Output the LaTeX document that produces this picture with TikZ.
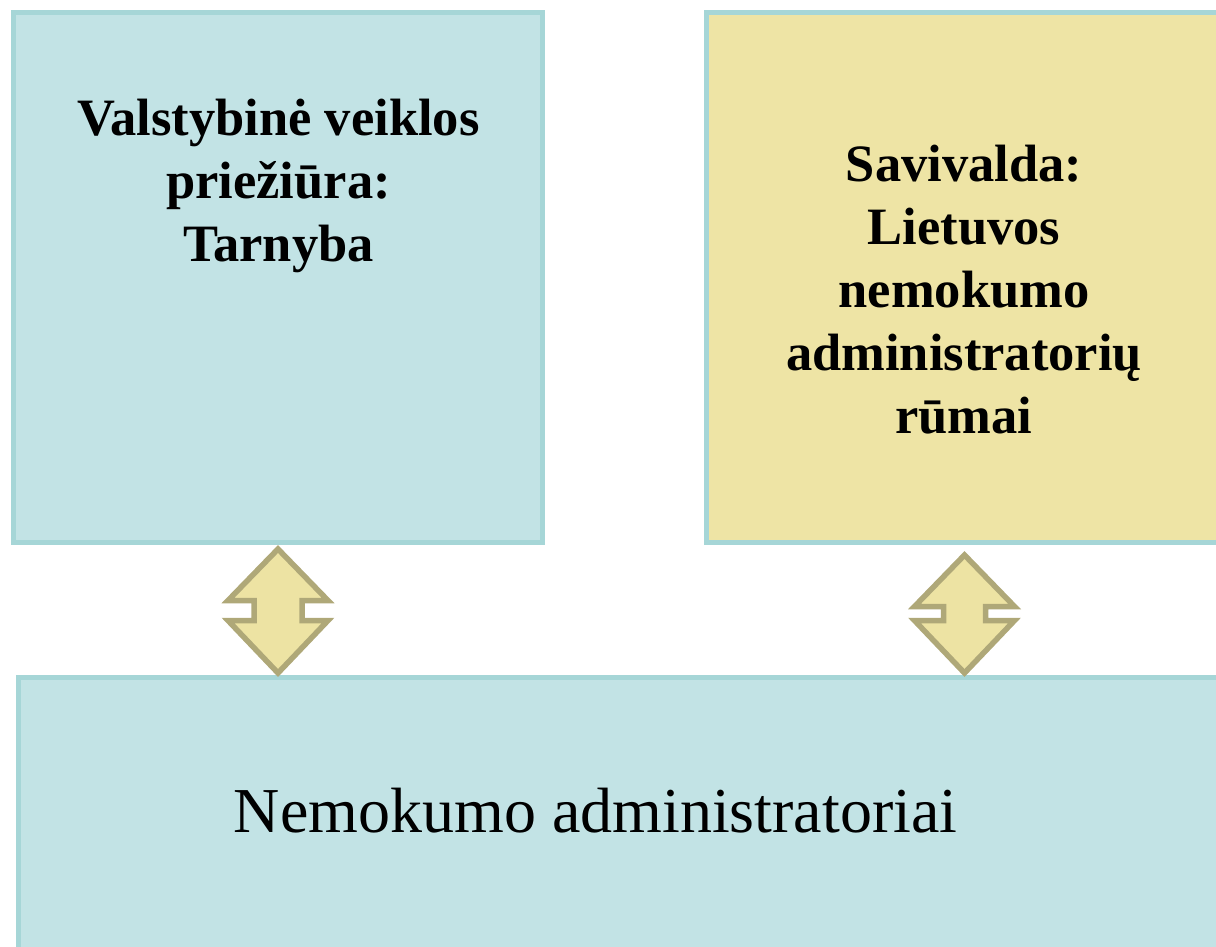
\documentclass[tikz,border=0pt]{standalone}
\usepackage{fontspec}
\setmainfont{Liberation Serif}
\definecolor{boxline}{HTML}{A6D6D7}
\definecolor{boxfill}{HTML}{C2E3E5}
\definecolor{yelfill}{HTML}{EEE4A5}
\definecolor{arrline}{HTML}{AFA878}
\definecolor{arrfill}{HTML}{EDE3A3}
\begin{document}
\begin{tikzpicture}[x=1pt,y=-1pt,
  box/.style={draw=boxline,line width=5pt,fill=boxfill,rectangle,inner sep=0pt,outer sep=0pt},
  ybox/.style={box,fill=yelfill},
  title/.style={align=center,anchor=base,inner sep=0pt,font=\fontsize{52.5}{63}\selectfont\bfseries},
  big/.style={anchor=base,inner sep=0pt,font=\fontsize{64}{77}\selectfont},
  dbl/.style={draw=arrline,fill=arrfill,line width=5.5pt,line join=miter}]
\useasboundingbox (0,0) rectangle (1216,946);
\begin{scope}
\clip (0,0) rectangle (1216,946);
\node[box,minimum width=529pt,minimum height=530pt] (L) at (278,277.5) {};
\node[ybox,minimum width=540pt,minimum height=530pt] (R) at (976.5,277.5) {};
\node[box,minimum width=1230pt,minimum height=300pt] (B) at (633.5,827.5) {};
\end{scope}
\node[title] (Lt) at (278.5,261) {Valstybinė veiklos\\priežiūra:\\Tarnyba};
\node[title] (Rt) at (964,433) {Savivalda:\\Lietuvos\\nemokumo\\administratorių\\rūmai};
\node[big] (Bt) at (595.5,832) {Nemokumo administratoriai};
% double arrows
\draw[dbl] (278,549) -- (228,600.5) -- (254,600.5) -- (254,620.5) -- (228,620.5)
  -- (278,673) -- (328,620.5) -- (302,620.5) -- (302,600.5) -- (328,600.5) -- cycle;
\draw[dbl] (964.5,555) -- (914.5,606.5) -- (943.5,606.5) -- (943.5,620.5) -- (914.5,620.5)
  -- (964.5,673) -- (1014.5,620.5) -- (985.5,620.5) -- (985.5,606.5) -- (1014.5,606.5) -- cycle;
\end{tikzpicture}
\end{document}
